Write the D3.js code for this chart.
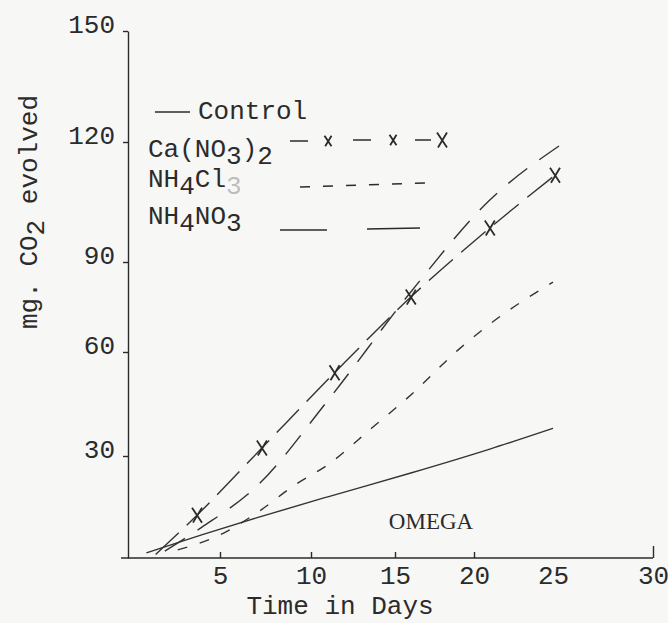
<!DOCTYPE html>
<html>
<head>
<meta charset="utf-8">
<script src="https://cdn.jsdelivr.net/npm/d3@7"></script>
<style>
  body { margin: 0; background: #f7f7f5; }
  text { font-family: "Liberation Mono", "Courier New", monospace; fill: #2b2b2b; }
  .axis path, .axis line { stroke: #2b2b2b; stroke-width: 1.4; }
</style>
</head>
<body>
<svg id="chart" width="668" height="623"></svg>
<script>
  // values (days, mg CO2)
  var dayTicks = [5, 10, 15, 20, 25, 30];
  var co2Ticks = [30, 60, 90, 120, 150];

  var controlDays = [1, 4, 7, 11, 16, 21, 25];
  var controlVals = [1.5, 6.8, 11.8, 18, 25, 32, 38];

  var caNitrateDays = [1.5, 3.75, 7.3, 11.4, 16, 21, 25.1];
  var caNitrateVals = [1, 12.6, 32.3, 54, 78.3, 98.5, 111.7];

  var amChlorideDays = [2.7, 5, 7, 9.2, 11, 13.6, 16, 19, 21, 25];
  var amChlorideVals = [2.4, 6.8, 13.2, 21.8, 27.4, 38, 47.6, 60.7, 69.3, 83.3];

  var amNitrateDays = [2, 4, 7, 11, 16, 21, 25.3];
  var amNitrateVals = [2, 9, 21, 46, 80, 105.5, 119];

  var svg = d3.select("#chart");
  var ink = "#2b2b2b";
  var fs = 26;

  // hand drawn axes are uneven, so the scales are piecewise
  var x = d3.scaleLinear()
    .domain([0, 5, 10, 15, 20, 25, 30])
    .range([128, 220, 311, 395, 474, 553, 653]);
  var y = d3.scaleLinear()
    .domain([0, 30, 60, 90, 120, 150])
    .range([558, 456, 352, 262, 142, 31]);

  // axes
  var yAxis = svg.append("g")
    .attr("class", "axis")
    .attr("transform", "translate(" + x(0) + ",0)")
    .call(d3.axisLeft(y).tickValues(co2Ticks).tickSizeInner(5).tickSizeOuter(0).tickPadding(8));
  yAxis.selectAll("text")
    .attr("font-size", fs)
    .attr("dy", "0.07em")
    .style("font-family", "Liberation Mono, monospace");

  var xAxis = svg.append("g")
    .attr("class", "axis")
    .attr("transform", "translate(0," + y(0) + ")")
    .call(d3.axisBottom(x).tickValues(dayTicks).tickSizeInner(-6).tickSizeOuter(0).tickPadding(8));
  xAxis.select(".domain").attr("d", "M" + (x(0) - 7) + ",0H" + x(30));
  xAxis.selectAll(".tick").filter(function(d) { return d === 30; })
    .select("line").attr("y2", -12);
  xAxis.selectAll(".tick").filter(function(d) { return d === 25; })
    .select("line").remove();
  xAxis.selectAll("text")
    .attr("font-size", fs)
    .style("font-family", "Liberation Mono, monospace");

  // axis titles
  svg.append("text")
    .attr("x", 340).attr("y", 614)
    .attr("text-anchor", "middle")
    .attr("font-size", fs)
    .text("Time in Days");

  var yTitle = svg.append("text")
    .attr("transform", "translate(37,212) rotate(-90)")
    .attr("text-anchor", "middle")
    .attr("font-size", fs);
  yTitle.append("tspan").text("mg. CO");
  yTitle.append("tspan").attr("dy", 7).text("2");
  yTitle.append("tspan").attr("dy", -7).text(" evolved");

  // curves
  var line = d3.line()
    .x(function(d) { return x(d[0]); })
    .y(function(d) { return y(d[1]); })
    .curve(d3.curveMonotoneX);

  function pairs(days, vals) {
    return days.map(function(d, i) { return [d, vals[i]]; });
  }

  var series = [
    { key: "control", data: pairs(controlDays, controlVals), dash: null },
    { key: "ca", data: pairs(caNitrateDays, caNitrateVals), dash: "32,11" },
    { key: "nh4cl", data: pairs(amChlorideDays, amChlorideVals), dash: "10,13" },
    { key: "nh4no3", data: pairs(amNitrateDays, amNitrateVals), dash: "24,15" }
  ];

  svg.append("g").selectAll("path")
    .data(series)
    .join("path")
    .attr("d", function(d) { return line(d.data); })
    .attr("fill", "none")
    .attr("stroke", "#333")
    .attr("stroke-width", 1.4)
    .attr("stroke-dasharray", function(d) { return d.dash; });

  function xMark(sel, r) {
    sel.append("path")
      .attr("d", function() {
        var h = r * 1.5;
        return "M" + (-r) + "," + (-h) + "L" + r + "," + h + "M" + r + "," + (-h) + "L" + (-r * 0.8) + "," + h;
      })
      .attr("fill", "none")
      .attr("stroke", ink)
      .attr("stroke-width", 1.8);
  }

  svg.append("g").selectAll("g")
    .data(pairs(caNitrateDays, caNitrateVals).slice(1))
    .join("g")
    .attr("transform", function(d) { return "translate(" + x(d[0]) + "," + y(d[1]) + ")"; })
    .call(xMark, 5);

  // legend
  var lg = svg.append("g");
  function label(xp, yp, parts) {
    var t = lg.append("text").attr("x", xp).attr("y", yp).attr("font-size", fs);
    var low = false;
    parts.forEach(function(p) {
      var sub = typeof p !== "string";
      var s = sub ? p.sub : p;
      var dy = sub && !low ? 7 : (!sub && low ? -7 : 0);
      var ts = t.append("tspan").attr("dy", dy).text(s);
      if (sub && p.faint) ts.attr("fill-opacity", 0.3);
      low = sub;
    });
  }

  function seg(x1, y1, x2, y2) {
    lg.append("line").attr("x1", x1).attr("y1", y1).attr("x2", x2).attr("y2", y2)
      .attr("stroke", ink).attr("stroke-width", 1.5);
  }

  seg(155, 112, 190, 112);
  label(198, 119, ["Control"]);

  label(148, 157, ["Ca(NO", { sub: "3" }, ")", { sub: "2" }]);
  seg(290, 141, 308, 141);
  seg(353, 140, 371, 140);
  seg(415, 140, 431, 140);
  lg.append("g").attr("transform", "translate(328,141)").call(xMark, 3.5);
  lg.append("g").attr("transform", "translate(393,140)").call(xMark, 3.5);
  lg.append("g").attr("transform", "translate(442,140)").call(xMark, 5);

  label(148, 187, ["NH", { sub: "4" }, "Cl", { sub: "3", faint: true }]);
  lg.append("line").attr("x1", 300).attr("x2", 425).attr("y1", 187).attr("y2", 183)
    .attr("stroke", ink).attr("stroke-width", 1.5).attr("stroke-dasharray", "10,13");

  label(148, 224, ["NH", { sub: "4" }, "NO", { sub: "3" }]);
  seg(280, 230, 327, 230);
  seg(367, 229, 420, 228);

  svg.append("text")
    .attr("x", 431).attr("y", 529)
    .attr("text-anchor", "middle")
    .attr("font-size", 23)
    .style("font-family", "Liberation Serif, serif")
    .text("OMEGA");
</script>
</body>
</html>
